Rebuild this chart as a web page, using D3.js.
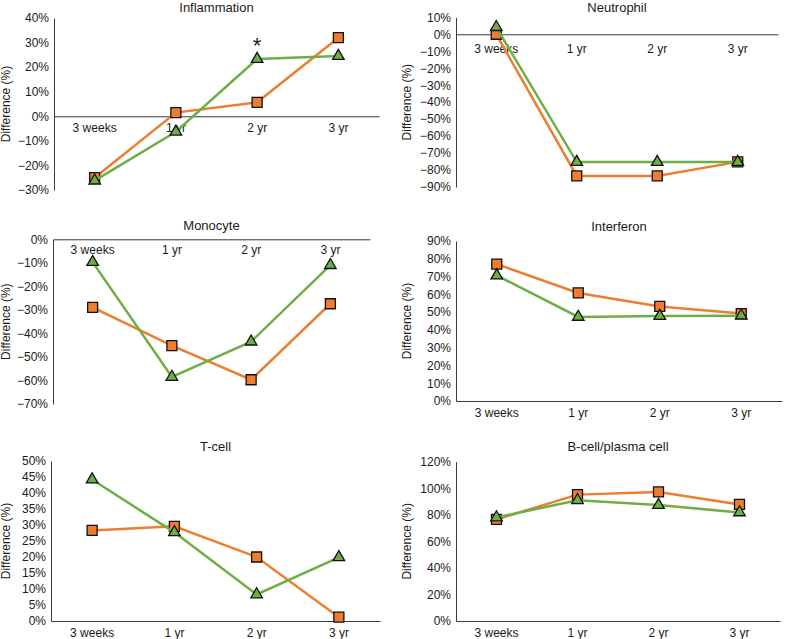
<!DOCTYPE html>
<html>
<head>
<meta charset="utf-8">
<script src="https://cdn.jsdelivr.net/npm/d3@7"></script>
<style>
  body { margin: 0; background: #fff; }
  svg { display: block; }
  text { font-family: "Liberation Sans", Arial, sans-serif; fill: #1a1a1a; }
</style>
</head>
<body>
<svg id="chart" width="786" height="639"></svg>
<script>
// ---------- data ----------
const categories = ["3 weeks", "1 yr", "2 yr", "3 yr"];

const panelTitles = ["Inflammation", "Neutrophil", "Monocyte", "Interferon", "T-cell", "B-cell/plasma cell"];

// orange (square) series
const orangeInflammation = [-25, 1.5, 5.7, 32];
const orangeNeutrophil   = [0, -83.5, -83.5, -75.2];
const orangeMonocyte     = [-28.9, -45.2, -59.7, -27.4];
const orangeInterferon   = [77, 60.8, 53.2, 49.2];
const orangeTcell        = [28.3, 29.6, 20, 1.2];
const orangeBcell        = [76.5, 95.2, 97.2, 87.8];

// green (triangle) series
const greenInflammation = [-26.2, -6.3, 23.3, 24.5];
const greenNeutrophil   = [4.2, -75.3, -75.3, -75.3];
const greenMonocyte     = [-9.7, -58.5, -43.5, -11];
const greenInterferon   = [70.6, 47.3, 47.8, 48];
const greenTcell        = [44.2, 27.7, 8.3, 19.9];
const greenBcell        = [78, 91, 87.3, 81.8];

// y tick labels (%)
const ticksInflammation = [-30, -20, -10, 0, 10, 20, 30, 40];
const ticksNeutrophil   = [-90, -80, -70, -60, -50, -40, -30, -20, -10, 0, 10];
const ticksMonocyte     = [-70, -60, -50, -40, -30, -20, -10, 0];
const ticksInterferon   = [0, 10, 20, 30, 40, 50, 60, 70, 80, 90];
const ticksTcell        = [0, 5, 10, 15, 20, 25, 30, 35, 40, 45, 50];
const ticksBcell        = [0, 20, 40, 60, 80, 100, 120];

// significance marks
const sigPanel = ["Inflammation"];
const sigCategory = ["2 yr"];
const sigValue = [31];

const orangeSeries = [orangeInflammation, orangeNeutrophil, orangeMonocyte, orangeInterferon, orangeTcell, orangeBcell];
const greenSeries  = [greenInflammation, greenNeutrophil, greenMonocyte, greenInterferon, greenTcell, greenBcell];
const tickSets     = [ticksInflammation, ticksNeutrophil, ticksMonocyte, ticksInterferon, ticksTcell, ticksBcell];

// ---------- layout (pixels) ----------
const layout = [
  { x0: 54,  x1: 379, yTop: 18,    yBot: 190,   titleY: 11.5, labelX: 9.5, xPad: 7 },
  { x0: 456, x1: 778, yTop: 17.3,  yBot: 187,   titleY: 11.5, labelX: 411, xPad: 10 },
  { x0: 53,  x1: 370, yTop: 239.3, yBot: 404,   titleY: 229.5, labelX: 9.5, xPad: 6 },
  { x0: 456, x1: 782, yTop: 241,   yBot: 401,   titleY: 230.5, labelX: 411, xPad: 7 },
  { x0: 51,  x1: 380, yTop: 461,   yBot: 621,   titleY: 451, labelX: 9.5,  xPad: 7 },
  { x0: 456, x1: 780, yTop: 461.7, yBot: 621,   titleY: 451, labelX: 411,  xPad: 7 }
];

const ORANGE = "#ee7d31";
const GREEN = "#6fae45";
const AXIS = "#3a3a3a";
const FS = 12;

const svg = d3.select("#chart");
const fmt = d => (d < 0 ? "\u2212" + Math.abs(d) : d) + "%";

panelTitles.forEach((title, i) => {
  const L = layout[i];
  const ticks = tickSets[i];
  const g = svg.append("g");

  const x = d3.scaleBand().domain(categories).range([L.x0, L.x1]);
  const y = d3.scaleLinear().domain([d3.min(ticks), d3.max(ticks)]).range([L.yBot, L.yTop]);

  // y axis
  const ya = g.append("g").attr("transform", `translate(${L.x0},0)`)
    .call(d3.axisLeft(y).tickValues(ticks).tickFormat(fmt).tickSize(0).tickSizeOuter(0).tickPadding(5));
  ya.attr("font-size", null).attr("font-family", null);
  ya.select(".domain").attr("stroke", AXIS).attr("stroke-width", 1);
  ya.selectAll("text").style("font-size", FS + "px").attr("fill", "#1a1a1a");

  // x axis at 0
  const xa = g.append("g").attr("transform", `translate(0,${y(0)})`)
    .call(d3.axisBottom(x).tickSize(0).tickSizeOuter(0).tickPadding(L.xPad));
  xa.attr("font-size", null).attr("font-family", null);
  xa.select(".domain").attr("stroke", AXIS).attr("stroke-width", 1);
  xa.selectAll("text").style("font-size", FS + "px").attr("fill", "#1a1a1a");

  // title
  g.append("text")
    .attr("x", (L.x0 + L.x1) / 2).attr("y", L.titleY)
    .attr("text-anchor", "middle").style("font-size", "13px")
    .text(title);

  // y label
  g.append("text")
    .attr("transform", `translate(${L.labelX},${(L.yTop + L.yBot) / 2}) rotate(-90)`)
    .attr("text-anchor", "middle").style("font-size", FS + "px")
    .text("Difference (%)");

  const line = d3.line().x((d, j) => x(categories[j]) + x.bandwidth() / 2).y(d => y(d));

  // orange series
  g.append("path").datum(orangeSeries[i]).attr("d", line)
    .attr("fill", "none").attr("stroke", ORANGE).attr("stroke-width", 2.5);
  g.selectAll(".sq").data(orangeSeries[i]).enter().append("path")
    .attr("d", d3.symbol().type(d3.symbolSquare).size(100))
    .attr("transform", (d, j) => `translate(${x(categories[j]) + x.bandwidth() / 2},${y(d)})`)
    .attr("fill", ORANGE).attr("stroke", "#111").attr("stroke-width", 1.3);

  // green series
  g.append("path").datum(greenSeries[i]).attr("d", line)
    .attr("fill", "none").attr("stroke", GREEN).attr("stroke-width", 2.5);
  g.selectAll(".tri").data(greenSeries[i]).enter().append("path")
    .attr("d", d3.symbol().type(d3.symbolTriangle).size(58))
    .attr("transform", (d, j) => `translate(${x(categories[j]) + x.bandwidth() / 2},${y(d)})`)
    .attr("fill", GREEN).attr("stroke", "#111").attr("stroke-width", 1.3);

  // significance marks
  sigPanel.forEach((p, k) => {
    if (p !== title) return;
    g.append("text")
      .attr("x", x(sigCategory[k]) + x.bandwidth() / 2)
      .attr("y", y(sigValue[k]))
      .attr("dy", "0.57em")
      .attr("text-anchor", "middle")
      .style("font-size", "22px")
      .text("*");
  });
});
</script>
</body>
</html>
